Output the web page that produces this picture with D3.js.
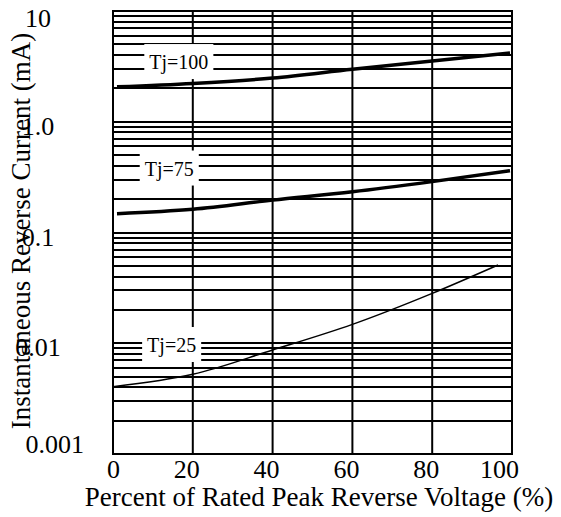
<!DOCTYPE html>
<html>
<head>
<meta charset="utf-8">
<script src="https://cdn.jsdelivr.net/npm/d3@7"></script>
<style>
body{margin:0;background:#fff;}
text{font-family:"Liberation Serif","Times New Roman",serif;fill:#000;}
</style>
</head>
<body>
<svg width="561" height="517"></svg>
<script>
var w = 561, h = 517;
var mLeft = 113, mRight = 512, mTop = 11, mBottom = 454;

// data
var xTicks = [0, 20, 40, 60, 80, 100];
var yTicks = [10, 1, 0.1, 0.01, 0.001];
var yTickLabels = ["10", "1.0", "0.1", "0.01", "0.001"];
var x100 = [1, 20, 40, 60, 80, 99.5];
var tj100 = [2.07, 2.22, 2.48, 2.98, 3.54, 4.18];
var x75 = [1, 20, 40, 60, 80, 99.5];
var tj75 = [0.148, 0.162, 0.196, 0.233, 0.288, 0.361];
var x25 = [0, 20, 40, 60, 80, 96.5];
var tj25 = [0.00405, 0.00524, 0.00869, 0.0148, 0.0282, 0.0509];
var labelNames = ["Tj=100", "Tj=75", "Tj=25"];
var labelX = [16.5, 14.1, 14.7];
var labelY = [3.46, 0.378, 0.00964];

var svg = d3.select("svg");
var x = d3.scaleLinear().domain([0, 100]).range([mLeft, mRight]);
var y = d3.scaleLog().domain([0.001, 10]).range([mBottom, mTop]);

// grid: every 1..9 in each decade
var minor = [];
for (var d = 0.001; d < 10; d *= 10) {
	for (var k = 1; k < 10; k++) minor.push(+(d * k).toPrecision(3));
}
minor.push(10);
var grid = svg.append("g").attr("stroke", "#000").attr("stroke-width", 2);
grid.selectAll(".h").data(minor).enter().append("line")
	.attr("x1", mLeft).attr("x2", mRight)
	.attr("y1", function(v){ return Math.round(y(v)); })
	.attr("y2", function(v){ return Math.round(y(v)); });
grid.selectAll(".v").data(xTicks).enter().append("line")
	.attr("x1", function(v){ return x(v); }).attr("x2", function(v){ return x(v); })
	.attr("y1", mTop - 1).attr("y2", mBottom + 1);

// curve labels with white boxes over the grid
for (var i = 0; i < labelNames.length; i++) {
	var t = svg.append("text")
		.attr("x", x(labelX[i])).attr("y", y(labelY[i]))
		.attr("text-anchor", "middle").attr("dy", "0.35em")
		.attr("font-size", 20).text(labelNames[i]);
	var b = t.node().getBBox();
	svg.insert("rect", "text")
		.attr("x", b.x - 5).attr("y", b.y - 7)
		.attr("width", b.width + 10).attr("height", b.height + 12)
		.attr("fill", "#fff");
}

var line = d3.line().curve(d3.curveMonotoneX)
	.x(function(d){ return x(d[0]); })
	.y(function(d){ return y(d[1]); });
function draw(xs, ys, sw){
	svg.append("path").datum(d3.zip(xs, ys))
		.attr("d", line).attr("fill", "none")
		.attr("stroke", "#000").attr("stroke-width", sw);
}
draw(x100, tj100, 3.5);
draw(x75, tj75, 3.5);
draw(x25, tj25, 1.5);

// tick labels
svg.selectAll(".xt").data(xTicks).enter().append("text")
	.attr("x", function(v){ return x(v) + 7; })
	.attr("y", 478)
	.attr("text-anchor", "end").attr("font-size", 26)
	.text(function(v){ return v; });

svg.selectAll(".yt").data(yTicks).enter().append("text")
	.attr("x", function(v, i){ return i == yTicks.length - 1 ? 84 : 38; })
	.attr("y", function(v, i){
		if (i == 0) return y(v) + 16;
		if (i == yTicks.length - 1) return y(v) - 1;
		return y(v) + 13;
	})
	.attr("text-anchor", function(v, i){ return i == yTicks.length - 1 ? "end" : "middle"; })
	.attr("font-size", 26)
	.text(function(v, i){ return yTickLabels[i]; });

// axis titles
svg.append("text").attr("x", 319).attr("y", 506)
	.attr("text-anchor", "middle").attr("font-size", 27)
	.text("Percent of Rated Peak Reverse Voltage (%)");
svg.append("text")
	.attr("transform", "translate(30,231) rotate(-90)")
	.attr("text-anchor", "middle").attr("font-size", 27)
	.text("Instantaneous Reverse Current (mA)");
</script>
</body>
</html>
